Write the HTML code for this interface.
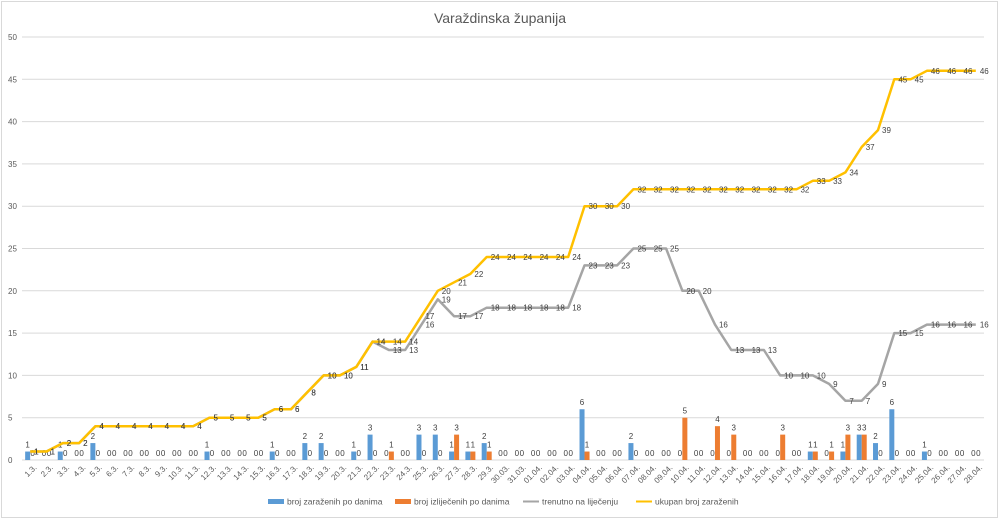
<!DOCTYPE html>
<html><head><meta charset="utf-8"><style>
html,body{margin:0;padding:0;background:#fff;}
svg{display:block;font-family:"Liberation Sans",sans-serif;}
</style></head><body>
<svg id="c" width="1000" height="520" xmlns="http://www.w3.org/2000/svg"></svg>
<script>
var cats=[];for(var i=1;i<=31;i++)cats.push(i<30?i+'.3.':(i+'.03.'));
for(var i=1;i<=28;i++)cats.push((i<10?'0'+i:i)+'.04.');
var N=cats.length;
var blue=new Array(N).fill(0),orange=new Array(N).fill(0);
function di(s){return cats.indexOf(s);}
var b={'1.3.':1,'3.3.':1,'5.3.':2,'12.3.':1,'16.3.':1,'18.3.':2,'19.3.':2,'21.3.':1,'22.3.':3,'25.3.':3,'26.3.':3,'27.3.':1,'28.3.':1,'29.3.':2,'04.04.':6,'07.04.':2,'18.04.':1,'20.04.':1,'21.04.':3,'22.04.':2,'23.04.':6,'25.04.':1};
var o={'23.3.':1,'27.3.':3,'28.3.':1,'29.3.':1,'04.04.':1,'10.04.':5,'12.04.':4,'13.04.':3,'16.04.':3,'18.04.':1,'19.04.':1,'20.04.':3,'21.04.':3};
for(var k in b)blue[di(k)]=b[k];for(var k in o)orange[di(k)]=o[k];
var tot=[],act=[],ct=0,cr=0;
for(var i=0;i<N;i++){ct+=blue[i];cr+=orange[i];tot.push(ct);act.push(ct-cr);}
var x0=22,pw=962,step=pw/N,y0=460,sc=8.46;
function X(i){return x0+step*(i+0.5);}
function Y(v){return y0-v*sc;}
var s='';
s+='<rect x="1.5" y="1.5" width="996" height="516" fill="#fff" stroke="#d9d9d9"/>';
s+='<text x="500" y="23" font-size="14" fill="#595959" text-anchor="middle">Varaždinska županija</text>';
for(var v=0;v<=50;v+=5){s+='<line x1="'+x0+'" x2="'+(x0+pw)+'" y1="'+Y(v)+'" y2="'+Y(v)+'" stroke="#d9d9d9" stroke-width="1"/>';
s+='<text x="8" y="'+(Y(v)+3)+'" font-size="8" fill="#595959">'+v+'</text>';}
var bw=5;
for(var i=0;i<N;i++){var cx=X(i);
if(blue[i])s+='<rect x="'+(cx-bw)+'" y="'+Y(blue[i])+'" width="'+bw+'" height="'+(blue[i]*sc)+'" fill="#5b9bd5"/>';
if(orange[i])s+='<rect x="'+cx+'" y="'+Y(orange[i])+'" width="'+bw+'" height="'+(orange[i]*sc)+'" fill="#ed7d31"/>';
s+='<text x="'+(cx-2.5)+'" y="'+(Y(blue[i])-4)+'" font-size="8" fill="#404040" text-anchor="middle">'+blue[i]+'</text>';
s+='<text x="'+(cx+2.5)+'" y="'+(Y(orange[i])-4)+'" font-size="8" fill="#404040" text-anchor="middle">'+orange[i]+'</text>';
s+='<text transform="translate('+(cx+7)+',468) rotate(-45)" font-size="8" fill="#595959" text-anchor="end">'+cats[i]+'</text>';}
function line(d,c){var p='';for(var i=0;i<N;i++)p+=(i?'L':'M')+X(i).toFixed(1)+','+Y(d[i]).toFixed(1);
return '<path d="'+p+'" fill="none" stroke="'+c+'" stroke-width="2.5" stroke-linejoin="round"/>';}
s+=line(act,'#a5a5a5');s+=line(tot,'#ffc000');
for(var i=0;i<N;i++){
s+='<text x="'+(X(i)+4)+'" y="'+(Y(act[i])+3)+'" font-size="8" fill="#404040">'+act[i]+'</text>';
s+='<text x="'+(X(i)+4)+'" y="'+(Y(tot[i])+3)+'" font-size="8" fill="#404040">'+tot[i]+'</text>';}
var lg=[[268,'#5b9bd5','broj zaraženih po danima',1],[395,'#ed7d31','broj izliječenih po danima',1],[523,'#a5a5a5','trenutno na liječenju',0],[636,'#ffc000','ukupan broj zaraženih',0]];
lg.forEach(function(l){
if(l[3])s+='<rect x="'+l[0]+'" y="499" width="16" height="5" fill="'+l[1]+'"/>';
else s+='<line x1="'+l[0]+'" x2="'+(l[0]+16)+'" y1="501.5" y2="501.5" stroke="'+l[1]+'" stroke-width="2"/>';
s+='<text x="'+(l[0]+19)+'" y="504.5" font-size="8.5" fill="#595959">'+l[2]+'</text>';});
document.getElementById('c').innerHTML=s;
</script>
</body></html>
